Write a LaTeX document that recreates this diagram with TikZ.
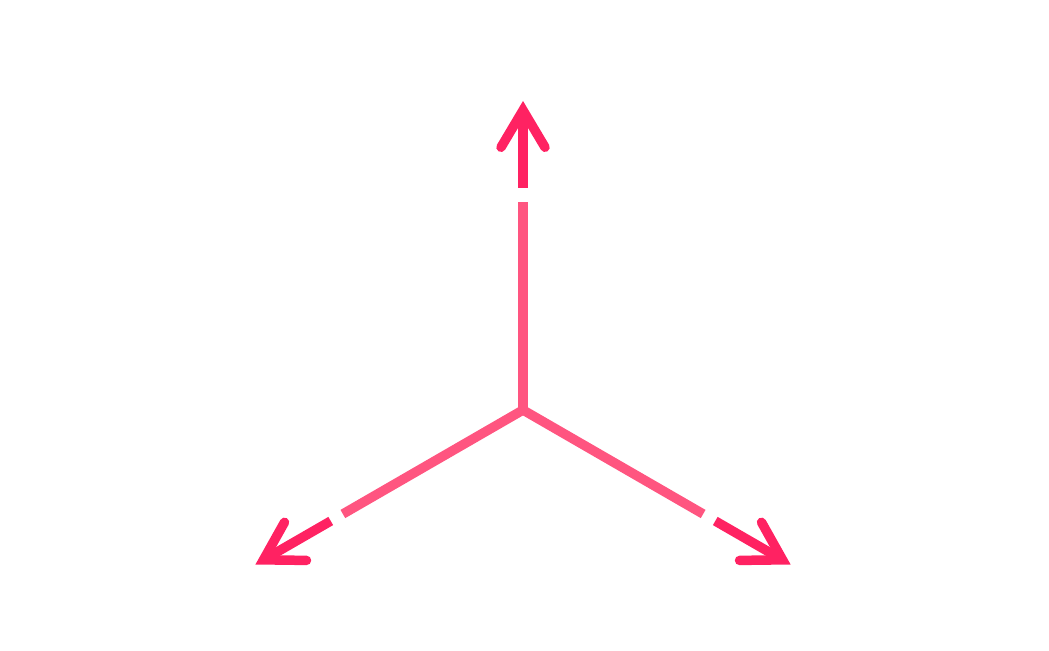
\documentclass[tikz,border=0pt]{standalone}
\usetikzlibrary{arrows.meta}
\definecolor{axislight}{HTML}{FF5580}
\definecolor{axisdark}{HTML}{FF2262}
\begin{document}
\begin{tikzpicture}[
  axis/.style={line width=0.95mm, color=axislight},
  axishead/.style={line width=0.95mm, color=axisdark, -{Straight Barb[length=3.7mm, width=4.4mm, line cap=round, line join=miter]}}
]
  \useasboundingbox (0,0) rectangle (10.49,6.5);
  \coordinate (o) at (5.23,2.40);
  % break and tip of each axis
  \foreach \name/\ang in {y/90, x/-30, z/210} {
    \coordinate (\name end) at ([shift={(\ang:2.08)}]o);
    \coordinate (\name start) at ([shift={(\ang:2.22)}]o);
    \coordinate (\name tip) at ([shift={(\ang:3.09)}]o);
  }

  \draw[axis] (zend) -- (o) -- (xend);
  \draw[axis] (o) -- (yend);

  \draw[axishead] (ystart) -- (ytip);
  \draw[axishead] (xstart) -- (xtip);
  \draw[axishead] (zstart) -- (ztip);
\end{tikzpicture}
\end{document}
